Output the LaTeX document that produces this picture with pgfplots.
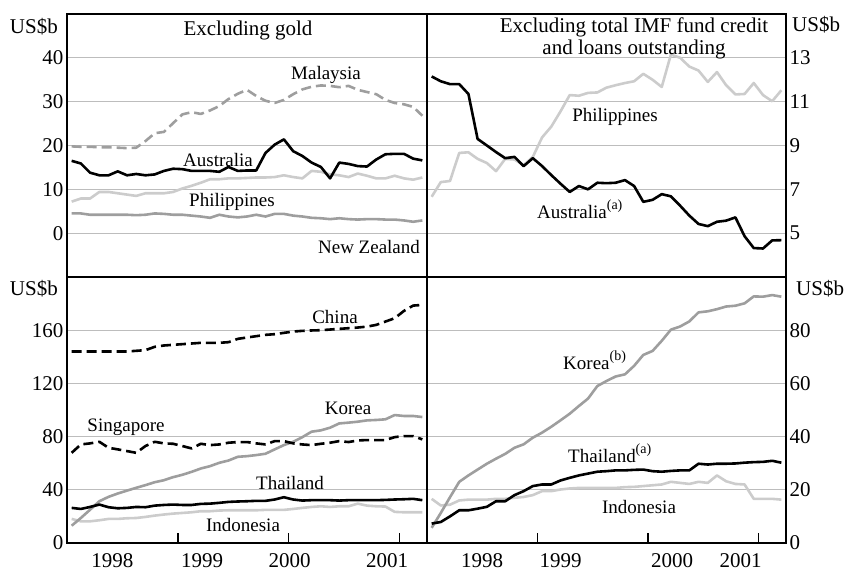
\documentclass[border=0pt]{standalone}
\usepackage{fontspec}
\setmainfont{Liberation Serif}
\usepackage{pgfplots}
\pgfplotsset{compat=1.18}
\usepackage{pgfplotstable}

\definecolor{midgray}{gray}{0.62}
\definecolor{lightgray}{gray}{0.80}
\definecolor{gridgray}{gray}{0.74}

\pgfplotstableread{
date aus mal phi nz
1998.042 16.5 19.8 7.2 4.5
1998.125 15.9 19.7 7.9 4.5
1998.208 13.8 19.7 7.9 4.2
1998.292 13.2 19.6 9.4 4.2
1998.375 13.2 19.6 9.4 4.2
1998.458 14.1 19.5 9.1 4.2
1998.542 13.2 19.4 8.8 4.2
1998.625 13.5 19.5 8.5 4.1
1998.708 13.2 21.0 9.1 4.2
1998.792 13.4 22.8 9.1 4.5
1998.875 14.2 23.1 9.1 4.4
1998.958 14.7 25.1 9.4 4.2
1999.042 14.6 27.1 10.2 4.2
1999.125 14.2 27.6 10.8 4.0
1999.208 14.2 27.2 11.5 3.8
1999.292 14.2 28.0 12.3 3.5
1999.375 14.0 29.0 12.3 4.2
1999.458 15.1 30.6 12.5 3.8
1999.542 14.2 31.8 12.5 3.6
1999.625 14.3 32.7 12.6 3.8
1999.708 14.3 31.3 12.7 4.2
1999.792 18.3 30.2 12.7 3.8
1999.875 20.2 29.7 12.8 4.4
1999.958 21.4 30.4 13.2 4.4
2000.042 18.7 31.7 12.8 4.0
2000.125 17.6 32.8 12.5 3.8
2000.208 16.1 33.4 14.2 3.5
2000.292 15.1 33.7 14.0 3.4
2000.375 12.5 33.6 13.4 3.2
2000.458 16.1 33.3 13.2 3.4
2000.542 15.8 33.6 12.8 3.2
2000.625 15.3 32.7 13.6 3.1
2000.708 15.2 32.2 13.1 3.2
2000.792 16.8 31.7 12.5 3.2
2000.875 18.0 30.4 12.5 3.1
2000.958 18.1 29.7 13.1 3.1
2001.042 18.1 29.4 12.5 2.9
2001.125 17.0 28.8 12.2 2.6
2001.208 16.6 26.8 12.7 2.9
}\TL

\pgfplotstableread{
date aus phi
1998.042 12.15 6.66
1998.125 11.93 7.33
1998.208 11.80 7.38
1998.292 11.80 8.66
1998.375 11.35 8.69
1998.458 9.30 8.39
1998.542 9.00 8.20
1998.625 8.70 7.83
1998.708 8.42 8.39
1998.792 8.48 8.36
1998.875 8.06 8.10
1998.958 8.42 8.48
1999.042 8.06 9.37
1999.125 7.65 9.86
1999.208 7.26 10.55
1999.292 6.88 11.30
1999.375 7.15 11.27
1999.458 7.00 11.40
1999.542 7.30 11.42
1999.625 7.28 11.64
1999.708 7.30 11.75
1999.792 7.42 11.85
1999.875 7.15 11.93
1999.958 6.43 12.27
2000.042 6.52 12.00
2000.125 6.78 11.67
2000.208 6.68 13.15
2000.292 6.25 13.00
2000.375 5.80 12.60
2000.458 5.42 12.42
2000.542 5.32 11.90
2000.625 5.52 12.35
2000.708 5.57 11.75
2000.792 5.72 11.33
2000.875 4.86 11.35
2000.958 4.32 11.85
2001.042 4.30 11.30
2001.125 4.67 11.02
2001.208 4.68 11.52
}\TR

\pgfplotstableread{
date china sing korea thai indo
1998.042 144.0 67.8 13.0 26.4 18.1
1998.125 144.0 74.1 18.8 25.6 16.3
1998.208 144.0 74.9 25.0 27.1 16.3
1998.292 144.0 76.1 31.4 28.9 17.1
1998.375 144.0 71.6 34.7 26.9 18.1
1998.458 144.0 70.4 37.2 26.1 18.1
1998.542 144.0 69.1 39.4 26.4 18.6
1998.625 144.5 67.8 41.5 27.1 18.8
1998.708 145.0 72.9 43.5 26.9 19.6
1998.792 147.5 76.1 45.7 28.1 20.6
1998.875 148.5 74.9 47.2 28.6 21.4
1998.958 149.0 74.6 49.5 28.9 22.1
1999.042 149.5 72.9 51.3 28.6 22.6
1999.125 150.0 71.1 53.5 28.6 23.1
1999.208 150.5 74.6 56.0 29.4 23.9
1999.292 150.5 73.6 57.8 29.6 23.9
1999.375 150.5 74.1 60.3 30.2 24.4
1999.458 151.0 75.4 62.0 30.9 24.6
1999.542 153.5 75.9 64.8 31.2 24.6
1999.625 154.5 75.9 65.3 31.4 24.6
1999.708 155.5 74.9 66.1 31.7 24.6
1999.792 156.5 74.1 67.1 31.7 24.9
1999.875 157.0 76.6 70.4 32.7 24.9
1999.958 158.0 76.6 73.6 34.4 24.9
2000.042 159.0 74.9 76.1 32.7 25.6
2000.125 159.5 74.1 79.6 31.9 26.4
2000.208 159.8 73.6 83.7 32.2 27.1
2000.292 160.0 74.6 84.7 32.2 27.6
2000.375 160.5 75.4 86.7 32.2 27.1
2000.458 161.0 76.6 89.9 31.9 27.6
2000.542 161.5 75.9 90.5 32.2 27.6
2000.625 162.0 77.1 91.2 32.2 29.6
2000.708 162.7 77.4 92.2 32.2 28.1
2000.792 164.0 77.4 92.5 32.2 27.6
2000.875 166.5 77.4 93.0 32.4 27.4
2000.958 169.0 79.6 96.2 32.7 23.4
2001.042 174.5 80.4 95.5 32.9 23.1
2001.125 178.5 80.4 95.5 33.2 23.1
2001.208 179.0 77.9 94.7 32.2 23.1
}\BL

\pgfplotstableread{
date korea thai indo
1998.042 5.7 7.3 16.6
1998.125 11.3 7.9 14.1
1998.208 17.2 10.0 14.4
1998.292 23.0 12.3 16.0
1998.375 25.4 12.3 16.3
1998.458 27.6 12.9 16.3
1998.542 29.8 13.6 16.3
1998.625 31.7 15.7 16.6
1998.708 33.5 15.7 16.6
1998.792 35.8 18.0 17.0
1998.875 37.1 19.5 17.3
1998.958 39.6 21.4 18.0
1999.042 41.5 22.0 19.5
1999.125 43.7 22.0 19.5
1999.208 46.1 23.5 20.1
1999.292 48.6 24.5 20.5
1999.375 51.5 25.4 20.7
1999.458 54.3 26.1 20.7
1999.542 59.0 26.8 20.7
1999.625 60.9 27.0 20.7
1999.708 62.6 27.3 20.7
1999.792 63.4 27.3 21.0
1999.875 66.6 27.5 21.1
1999.958 70.7 27.6 21.4
2000.042 72.2 27.0 21.7
2000.125 76.0 26.8 22.0
2000.208 80.2 27.1 23.0
2000.292 81.4 27.3 22.6
2000.375 83.3 27.3 22.2
2000.458 86.7 29.8 23.0
2000.542 87.1 29.5 22.6
2000.625 87.9 29.8 25.4
2000.708 88.9 29.8 23.2
2000.792 89.2 29.9 22.2
2000.875 90.1 30.2 22.0
2000.958 92.7 30.4 16.6
2001.042 92.6 30.5 16.6
2001.125 93.2 30.9 16.6
2001.208 92.6 30.2 16.3
}\BR

\pgfplotsset{
  panel/.style={
    scale only axis, width=360pt, xmin=1998, xmax=2001.25,
    axis line style={line width=1.6pt, black},
    ymajorgrids, grid style={gridgray, line width=1.2pt},
    major tick length=0pt,
    tick label style={font=\fontsize{21}{21}\selectfont},
    /pgf/number format/assume math mode=true,
    clip=true,
  },
  toppanel/.style={panel, height=263pt, xtick=\empty},
  botpanel/.style={panel, height=266pt,
    xtick pos=bottom,
    xtick={1998.41,1999.22,2000.01,2000.89},
    xticklabels={1998,1999,2000,2001},
    extra x ticks={1999,2000,2001},
    extra x tick labels={},
    extra x tick style={major tick length=10pt, tick style={line width=1.6pt, black}, xtick pos=bottom},
    xticklabel style={yshift=-7pt},
  },
  ser/.style={line width=2.6pt, line join=round, no markers},
  dser/.style={ser, dash pattern=on 10pt off 5pt},
}

\newcommand{\lab}{\fontsize{19}{21}\selectfont}
\newcommand{\tit}{\fontsize{21}{22}\selectfont}
\newcommand{\tck}{\fontsize{21}{21}\selectfont}
\newcommand{\sups}[1]{\raisebox{0.5em}{\fontsize{14}{14}\selectfont #1}}

\begin{document}
\begin{tikzpicture}
\useasboundingbox (0pt,0pt) rectangle (845pt,572pt);

% Top-left
\begin{axis}[toppanel, at={(67pt,295pt)}, anchor=south west,
  ymin=-10, ymax=50, ytick={0,10,20,30,40}, yticklabel pos=left]
\addplot[dser, midgray] table[x=date, y=mal] {\TL};
\addplot[ser, midgray] table[x=date, y=nz] {\TL};
\addplot[ser, lightgray] table[x=date, y=phi] {\TL};
\addplot[ser, black] table[x=date, y=aus] {\TL};
\end{axis}

% Top-right
\begin{axis}[toppanel, at={(427pt,295pt)}, anchor=south west, width=359pt,
  ymin=3, ymax=15, ytick={5,7,9,11,13}, yticklabel pos=right]
\addplot[ser, lightgray] table[x=date, y=phi] {\TR};
\addplot[ser, black] table[x=date, y=aus] {\TR};
\end{axis}

% Bottom-left
\begin{axis}[botpanel, at={(67pt,29pt)}, anchor=south west,
  ymin=0, ymax=200, ytick={0,40,80,120,160}, yticklabel pos=left]
\addplot[ser, lightgray] table[x=date, y=indo] {\BL};
\addplot[ser, midgray] table[x=date, y=korea] {\BL};
\addplot[ser, black] table[x=date, y=thai] {\BL};
\addplot[dser, black] table[x=date, y=sing] {\BL};
\addplot[dser, black] table[x=date, y=china] {\BL};
\end{axis}

% Bottom-right
\begin{axis}[botpanel, at={(427pt,29pt)}, anchor=south west, width=359pt,
  xtick={1998.50,1999.21,2000.22,2000.84},
  ymin=0, ymax=100, ytick={0,20,40,60,80}, yticklabel pos=right]
\addplot[ser, lightgray] table[x=date, y=indo] {\BR};
\addplot[ser, midgray] table[x=date, y=korea] {\BR};
\addplot[ser, black] table[x=date, y=thai] {\BR};
\end{axis}

% unit labels
\node[anchor=east, font=\tck, inner sep=0pt] at (58pt,545pt) {US\$b};
\node[anchor=west, font=\tck, inner sep=0pt] at (792pt,547pt) {US\$b};
\node[anchor=east, font=\tck, inner sep=0pt] at (58pt,283pt) {US\$b};
\node[anchor=west, font=\tck, inner sep=0pt] at (796pt,283pt) {US\$b};

% titles
\node[font=\tit, inner sep=0pt] at (248pt,542pt) {Excluding gold};
\node[font=\tit, inner sep=0pt, align=center] at (634pt,534pt) {Excluding total IMF fund credit\\and loans outstanding};

% series labels
\node[font=\lab, inner sep=0pt] at (326pt,497pt) {Malaysia};
\node[font=\lab, inner sep=0pt] at (218pt,412pt) {Australia};
\node[font=\lab, inner sep=0pt] at (232pt,370pt) {Philippines};
\node[font=\lab, inner sep=0pt] at (369pt,325pt) {New Zealand};
\node[font=\lab, inner sep=0pt] at (615pt,455pt) {Philippines};
\node[font=\lab, inner sep=0pt, anchor=base west] at (537pt,353pt) {Australia\sups{(a)}};

\node[font=\lab, inner sep=0pt] at (335pt,255pt) {China};
\node[font=\lab, inner sep=0pt] at (126pt,145pt) {Singapore};
\node[font=\lab, inner sep=0pt] at (348pt,164pt) {Korea};
\node[font=\lab, inner sep=0pt] at (290pt,89pt) {Thailand};
\node[font=\lab, inner sep=0pt] at (243pt,47pt) {Indonesia};
\node[font=\lab, inner sep=0pt, anchor=base west] at (563pt,202pt) {Korea\sups{(b)}};
\node[font=\lab, inner sep=0pt, anchor=base west] at (568pt,109pt) {Thailand\sups{(a)}};
\node[font=\lab, inner sep=0pt] at (639pt,65pt) {Indonesia};
\end{tikzpicture}
\end{document}
